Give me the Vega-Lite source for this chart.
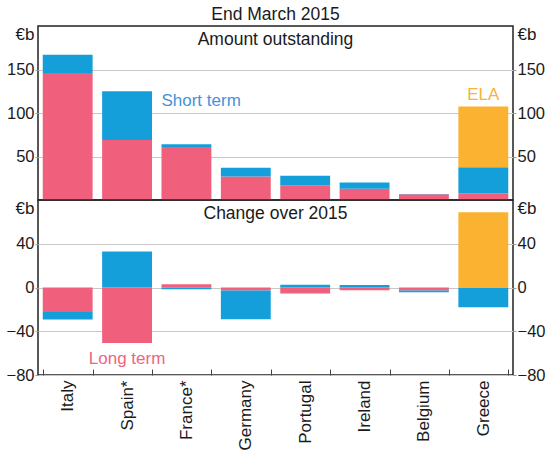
{
  "$schema": "https://vega.github.io/schema/vega-lite/v6.json",
  "padding": {"left": 5, "top": 5, "right": 5, "bottom": 0},
  "datasets": {
    "levels": [
      {"country": "Italy", "series": "Long term", "k": 1, "value": 146},
      {"country": "Italy", "series": "Short term", "k": 2, "value": 21},
      {"country": "Spain*", "series": "Long term", "k": 1, "value": 69},
      {"country": "Spain*", "series": "Short term", "k": 2, "value": 56},
      {"country": "France*", "series": "Long term", "k": 1, "value": 61},
      {"country": "France*", "series": "Short term", "k": 2, "value": 3},
      {"country": "Germany", "series": "Long term", "k": 1, "value": 27},
      {"country": "Germany", "series": "Short term", "k": 2, "value": 10},
      {"country": "Portugal", "series": "Long term", "k": 1, "value": 17},
      {"country": "Portugal", "series": "Short term", "k": 2, "value": 11},
      {"country": "Ireland", "series": "Long term", "k": 1, "value": 13},
      {"country": "Ireland", "series": "Short term", "k": 2, "value": 7},
      {"country": "Belgium", "series": "Long term", "k": 1, "value": 6.5},
      {"country": "Belgium", "series": "Short term", "k": 2, "value": 0.3},
      {"country": "Greece", "series": "Long term", "k": 1, "value": 7.6},
      {"country": "Greece", "series": "Short term", "k": 2, "value": 30},
      {"country": "Greece", "series": "ELA", "k": 3, "value": 70}
    ],
    "changes": [
      {"country": "Italy", "series": "Long term", "k": 1, "value": -22.5},
      {"country": "Italy", "series": "Short term", "k": 2, "value": -6.7},
      {"country": "Spain*", "series": "Long term", "k": 1, "value": -50.8},
      {"country": "Spain*", "series": "Short term", "k": 2, "value": 32.9},
      {"country": "France*", "series": "Long term", "k": 1, "value": 3},
      {"country": "France*", "series": "Short term", "k": 2, "value": -1.5},
      {"country": "Germany", "series": "Long term", "k": 1, "value": -2.7},
      {"country": "Germany", "series": "Short term", "k": 2, "value": -26.3},
      {"country": "Portugal", "series": "Long term", "k": 1, "value": -5.5},
      {"country": "Portugal", "series": "Short term", "k": 2, "value": 2.6},
      {"country": "Ireland", "series": "Long term", "k": 1, "value": -2.4},
      {"country": "Ireland", "series": "Short term", "k": 2, "value": 2.4},
      {"country": "Belgium", "series": "Long term", "k": 1, "value": -2.7},
      {"country": "Belgium", "series": "Short term", "k": 2, "value": -1.6},
      {"country": "Greece", "series": "Short term", "k": 2, "value": -18},
      {"country": "Greece", "series": "ELA", "k": 3, "value": 68.8}
    ],
    "notes": [
      {"country": "France*", "series": "Short term", "label": "Short term", "value": 108},
      {"country": "Greece", "series": "ELA", "label": "ELA", "value": 114.7},
      {"country": "Spain*", "series": "Long term", "label": "Long term", "value": -69.7}
    ],
    "heads": [
      {"panel": "title", "country": "Germany", "label": "End March 2015", "value": 200},
      {"panel": "top", "country": "Germany", "label": "Amount outstanding", "value": 200},
      {"panel": "bottom", "country": "Germany", "label": "Change over 2015", "value": 80}
    ]
  },
  "spacing": 0,
  "bounds": "flush",
  "vconcat": [
    {
      "width": 475,
      "height": 174,
      "layer": [
        {
          "data": {"name": "levels"},
          "mark": {"type": "bar"},
          "encoding": {
            "x": {"field": "country", "type": "nominal", "sort": ["Italy", "Spain*", "France*", "Germany", "Portugal", "Ireland", "Belgium", "Greece"], "scale": {"paddingInner": 0.16, "paddingOuter": 0.08}, "axis": null},
            "y": {"field": "value", "type": "quantitative", "stack": "zero", "scale": {"domain": [0, 200], "nice": false},
                  "axis": {"orient": "left", "values": [50, 100, 150], "title": "€b", "titleX": -4, "titleY": 8.5, "titleAlign": "right", "titleBaseline": "middle", "titleAngle": 0}},
            "color": {"field": "series", "type": "nominal", "scale": {"domain": ["Long term", "Short term", "ELA"], "range": ["#F0607C", "#149FDA", "#FBB231"]}, "legend": null},
            "order": {"field": "k", "type": "quantitative"}
          }
        },
        {
          "data": {"name": "notes"},
          "transform": [{"filter": "datum.label === 'Short term'"}],
          "mark": {"type": "text", "align": "left", "baseline": "alphabetic", "dx": -25, "fontSize": 17, "color": "#4592DA"},
          "encoding": {
            "x": {"field": "country", "type": "nominal", "sort": ["Italy", "Spain*", "France*", "Germany", "Portugal", "Ireland", "Belgium", "Greece"], "axis": null},
            "y": {"field": "value", "type": "quantitative",
                  "axis": {"orient": "right", "values": [50, 100, 150], "grid": false, "title": "€b", "titleX": 4, "titleY": 8.5, "titleAlign": "left", "titleBaseline": "middle", "titleAngle": 0}},
            "text": {"field": "label"}
          }
        },
        {
          "data": {"name": "notes"},
          "transform": [{"filter": "datum.label === 'ELA'"}],
          "mark": {"type": "text", "align": "center", "baseline": "alphabetic", "fontSize": 17, "color": "#F9B23C"},
          "encoding": {
            "x": {"field": "country", "type": "nominal", "sort": ["Italy", "Spain*", "France*", "Germany", "Portugal", "Ireland", "Belgium", "Greece"], "axis": null},
            "y": {"field": "value", "type": "quantitative", "axis": null},
            "text": {"field": "label"}
          }
        },
        {
          "data": {"name": "heads"},
          "transform": [{"filter": "datum.panel === 'top'"}],
          "mark": {"type": "text", "align": "center", "baseline": "alphabetic", "fontSize": 17.5, "dx": 4.75, "dy": 19, "color": "#1a1a1a"},
          "encoding": {
            "x": {"field": "country", "type": "nominal", "bandPosition": 1, "sort": ["Italy", "Spain*", "France*", "Germany", "Portugal", "Ireland", "Belgium", "Greece"], "axis": null},
            "y": {"field": "value", "type": "quantitative", "axis": null},
            "text": {"field": "label"}
          }
        },
        {
          "data": {"name": "heads"},
          "transform": [{"filter": "datum.panel === 'title'"}],
          "mark": {"type": "text", "align": "center", "baseline": "alphabetic", "fontSize": 17.5, "dx": 4.75, "dy": -6, "color": "#1a1a1a"},
          "encoding": {
            "x": {"field": "country", "type": "nominal", "bandPosition": 1, "sort": ["Italy", "Spain*", "France*", "Germany", "Portugal", "Ireland", "Belgium", "Greece"], "axis": null},
            "y": {"field": "value", "type": "quantitative", "axis": null},
            "text": {"field": "label"}
          }
        }
      ],
      "resolve": {"axis": {"y": "independent"}}
    },
    {
      "width": 475,
      "height": 175,
      "layer": [
        {
          "data": {"name": "changes"},
          "mark": {"type": "bar"},
          "encoding": {
            "x": {"field": "country", "type": "nominal", "sort": ["Italy", "Spain*", "France*", "Germany", "Portugal", "Ireland", "Belgium", "Greece"], "scale": {"paddingInner": 0.16, "paddingOuter": 0.08},
                  "axis": {"title": null, "labelAngle": -90, "labelAlign": "right", "labelBaseline": "middle", "labelFontSize": 17, "tickBand": "extent", "offset": -6, "tickSize": 6, "tickColor": "#444", "tickWidth": 1, "labelPadding": 5, "domain": false, "grid": false}},
            "y": {"field": "value", "type": "quantitative", "stack": "zero", "scale": {"domain": [-80, 80], "nice": false},
                  "axis": {"orient": "left", "values": [-80, -40, 0, 40], "title": "€b", "titleX": -4, "titleY": 8.5, "titleAlign": "right", "titleBaseline": "middle", "titleAngle": 0}},
            "color": {"field": "series", "type": "nominal", "scale": {"domain": ["Long term", "Short term", "ELA"], "range": ["#F0607C", "#149FDA", "#FBB231"]}, "legend": null},
            "order": {"field": "k", "type": "quantitative"}
          }
        },
        {
          "mark": {"type": "rule", "color": "#555", "strokeWidth": 1.5},
          "encoding": {"y": {"datum": 0, "type": "quantitative", "axis": null}}
        },
        {
          "data": {"name": "notes"},
          "transform": [{"filter": "datum.label === 'Long term'"}],
          "mark": {"type": "text", "align": "center", "baseline": "alphabetic", "fontSize": 17, "color": "#EE6580"},
          "encoding": {
            "x": {"field": "country", "type": "nominal", "sort": ["Italy", "Spain*", "France*", "Germany", "Portugal", "Ireland", "Belgium", "Greece"]},
            "y": {"field": "value", "type": "quantitative",
                  "axis": {"orient": "right", "values": [-80, -40, 0, 40], "grid": false, "title": "€b", "titleX": 4, "titleY": 8.5, "titleAlign": "left", "titleBaseline": "middle", "titleAngle": 0}},
            "text": {"field": "label"}
          }
        },
        {
          "data": {"name": "heads"},
          "transform": [{"filter": "datum.panel === 'bottom'"}],
          "mark": {"type": "text", "align": "center", "baseline": "alphabetic", "fontSize": 17.5, "dx": 4.75, "dy": 19, "color": "#1a1a1a"},
          "encoding": {
            "x": {"field": "country", "type": "nominal", "bandPosition": 1, "sort": ["Italy", "Spain*", "France*", "Germany", "Portugal", "Ireland", "Belgium", "Greece"]},
            "y": {"field": "value", "type": "quantitative", "axis": null},
            "text": {"field": "label"}
          }
        }
      ],
      "resolve": {"axis": {"y": "independent"}}
    }
  ],
  "config": {
    "font": "Liberation Sans",
    "view": {"stroke": "#222", "strokeWidth": 1.5},
    "axis": {"labelFont": "Liberation Sans", "titleFont": "Liberation Sans", "labelFontSize": 16.5, "titleFontSize": 17, "titleFontWeight": "normal", "labelColor": "#1a1a1a", "titleColor": "#1a1a1a", "domain": false, "gridColor": "#c8c8c8", "gridWidth": 1, "tickSize": 3, "tickColor": "#999", "labelPadding": 1, "minExtent": 32, "maxExtent": 32},
    "text": {"font": "Liberation Sans"}
  }
}
